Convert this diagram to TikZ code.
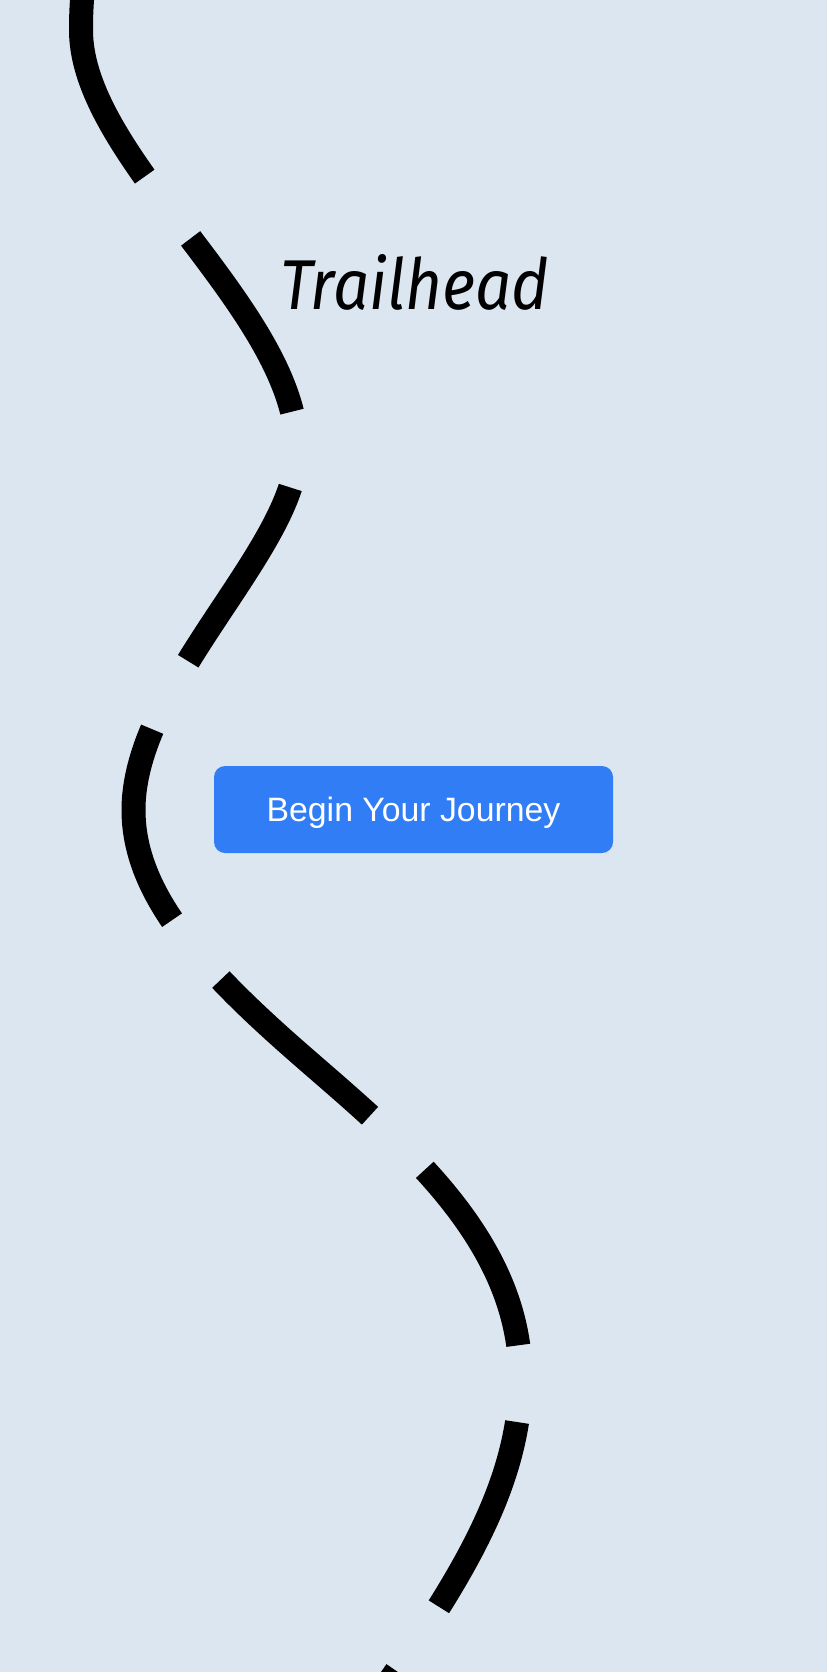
\documentclass[tikz,border=0pt]{standalone}
\usepackage{fontspec}
\usepackage{graphicx}
\newfontfamily\handfont{Fira Sans}
\newfontfamily\btnfont{Liberation Sans}
\usepackage{tikz}
\definecolor{bgblue}{RGB}{220,230,240}
\definecolor{btnblue}{RGB}{49,125,245}
\tikzset{
    %Define style for the dashed trail
    trail/.style={
           draw=black,
           line width=24pt,
           line cap=butt,
           dash pattern=on 202pt off 77pt,
           dash phase=248.2pt,
           },
    %Define style for the button
    journeybtn/.style={
           rectangle,
           rounded corners=11pt,
           fill=btnblue,
           minimum width=399pt,
           minimum height=87pt,
           inner sep=0pt,
           text=white,
           font=\btnfont\fontsize{33.8}{40}\selectfont,
           text height=24.2pt,
           text depth=0pt,
           },
    %Define style for the handwritten label
    handlabel/.style={
           inner sep=0pt,
           font=\handfont\itshape,
           anchor=base west,
           },
}
\begin{document}
\begin{tikzpicture}[x=1pt,y=-1pt]
\useasboundingbox (0,0) rectangle (827,1672);
\fill[bgblue] (0,0) rectangle (827,1672);
\clip (0,0) rectangle (827,1672);
% the trail
\draw[trail] (88,-40) .. controls (82,-15) and (81,10) .. (81,30)
	.. controls (81,160) and (297,310) .. (297,450)
	.. controls (297,548) and (133.5,683) .. (133.5,810)
	.. controls (133.5,890) and (195.4,962.1) .. (293,1048)
	.. controls (390.6,1133.9) and (520.5,1233.4) .. (520.5,1378)
	.. controls (520.5,1488) and (454.6,1587.5) .. (381,1693);
\node[handlabel] (trailhead) at (280,309) {\resizebox{269pt}{55pt}{Trailhead}};
\node[journeybtn] (journey) at (413.5,809.5) {Begin Your Journey};
\end{tikzpicture}
\end{document}
